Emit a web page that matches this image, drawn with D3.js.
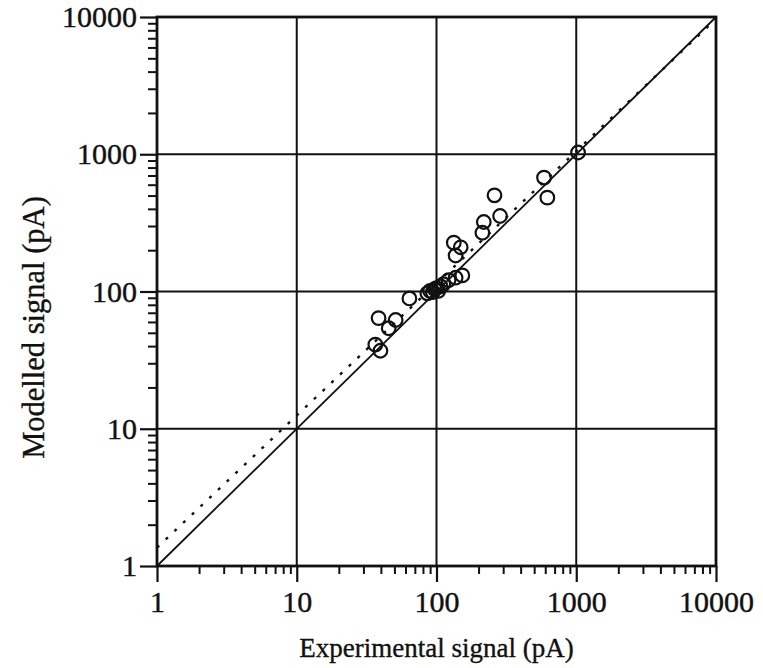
<!DOCTYPE html>
<html>
<head>
<meta charset="utf-8">
<script src="https://cdn.jsdelivr.net/npm/d3@7"></script>
<style>
  html, body { margin: 0; padding: 0; background: #fff; }
  svg text { font-family: "Liberation Serif", "DejaVu Serif", serif; fill: #111; }
</style>
</head>
<body>
<svg id="chart" width="763" height="668"></svg>
<script>
// Data
const experimental = [36.5, 39.7, 38.5, 45.5, 51, 64, 86, 90, 94, 97, 100, 103, 107, 112, 122, 137, 153, 133, 149, 137, 213, 218, 260, 285, 588, 621, 1030];
const modelled     = [41,   37,   64,   54,   62, 89, 97, 101, 99, 104, 106, 101, 109, 113, 121, 126, 131, 227, 210, 183, 268, 321, 502, 355, 676, 483, 1030];
const tickValues = [1, 10, 100, 1000, 10000];
const tickLabels = ["1", "10", "100", "1000", "10000"];
const identityLine = [1, 10000];
const fitA = 1.36, fitB = 0.963;           // dotted regression line y = a * x^b
const fitXs = [1, 10000];

const xLabel = "Experimental signal (pA)";
const yLabel = "Modelled signal (pA)";

const svg = d3.select("#chart");
const pL = 157, pR = 716, pT = 17, pB = 566;

const x = d3.scaleLog().domain([1, 10000]).range([pL, pR]);
const y = d3.scaleLog().domain([1, 10000]).range([pB, pT]);

// grid lines
const grid = svg.append("g").attr("stroke", "#111").attr("stroke-width", 2);
[10, 100, 1000].forEach(v => {
  grid.append("line").attr("x1", x(v)).attr("x2", x(v)).attr("y1", pT).attr("y2", pB);
  grid.append("line").attr("y1", y(v)).attr("y2", y(v)).attr("x1", pL).attr("x2", pR);
});

// frame
svg.append("rect").attr("x", pL).attr("y", pT).attr("width", pR - pL).attr("height", pB - pT)
  .attr("fill", "none").attr("stroke", "#111").attr("stroke-width", 2.8);

// minor tick values
const minor = [];
for (let d = 1; d < 10000; d *= 10) for (let k = 2; k <= 9; k++) minor.push(d * k);

// bottom axis
const xAxis = d3.axisBottom(x).tickValues(tickValues).tickFormat((d, i) => tickLabels[i]).tickSize(16).tickPadding(9);
const gx = svg.append("g").attr("transform", `translate(0,${pB})`).call(xAxis);
gx.select(".domain").remove();
gx.selectAll(".tick line").attr("stroke", "#111").attr("stroke-width", 2.2);
gx.selectAll(".tick text").attr("font-size", 30).attr("fill", "#111")
  .attr("stroke", "#111").attr("stroke-width", 0.4);
const gxm = svg.append("g").attr("transform", `translate(0,${pB})`)
  .call(d3.axisBottom(x).tickValues(minor).tickFormat("").tickSize(8));
gxm.select(".domain").remove();
gxm.selectAll(".tick line").attr("stroke", "#111").attr("stroke-width", 2);

// left axis
const yAxis = d3.axisLeft(y).tickValues(tickValues).tickFormat((d, i) => tickLabels[i]).tickSize(17).tickPadding(3);
const gy = svg.append("g").attr("transform", `translate(${pL},0)`).call(yAxis);
gy.select(".domain").remove();
gy.selectAll(".tick line").attr("stroke", "#111").attr("stroke-width", 2.2);
gy.selectAll(".tick text").attr("font-size", 30).attr("fill", "#111")
  .attr("stroke", "#111").attr("stroke-width", 0.4);
const gym = svg.append("g").attr("transform", `translate(${pL},0)`)
  .call(d3.axisLeft(y).tickValues(minor).tickFormat("").tickSize(9));
gym.select(".domain").remove();
gym.selectAll(".tick line").attr("stroke", "#111").attr("stroke-width", 2);

// identity line
const line = d3.line().x(d => x(d[0])).y(d => y(d[1]));
svg.append("path").datum(identityLine.map(v => [v, v])).attr("d", line)
  .attr("fill", "none").attr("stroke", "#111").attr("stroke-width", 1.8);

// dotted fit line
svg.append("path").datum(fitXs.map(v => [v, fitA * Math.pow(v, fitB)])).attr("d", line)
  .attr("fill", "none").attr("stroke", "#111").attr("stroke-width", 2.4)
  .attr("stroke-dasharray", "3,9");

// points
svg.append("g").selectAll("circle").data(experimental.map((v, i) => [v, modelled[i]])).join("circle")
  .attr("cx", d => x(d[0])).attr("cy", d => y(d[1])).attr("r", 6.8)
  .attr("fill", "none").attr("stroke", "#111").attr("stroke-width", 2.2);

// axis titles
svg.append("text").attr("x", (pL + pR) / 2).attr("y", 657).attr("text-anchor", "middle")
  .attr("font-size", 27).attr("stroke", "#111").attr("stroke-width", 0.35).text(xLabel);
svg.append("text").attr("transform", `translate(44,${(pT + pB) / 2 + 36}) rotate(-90)`).attr("text-anchor", "middle")
  .attr("font-size", 30.5).attr("stroke", "#111").attr("stroke-width", 0.35).text(yLabel);
</script>
</body>
</html>
